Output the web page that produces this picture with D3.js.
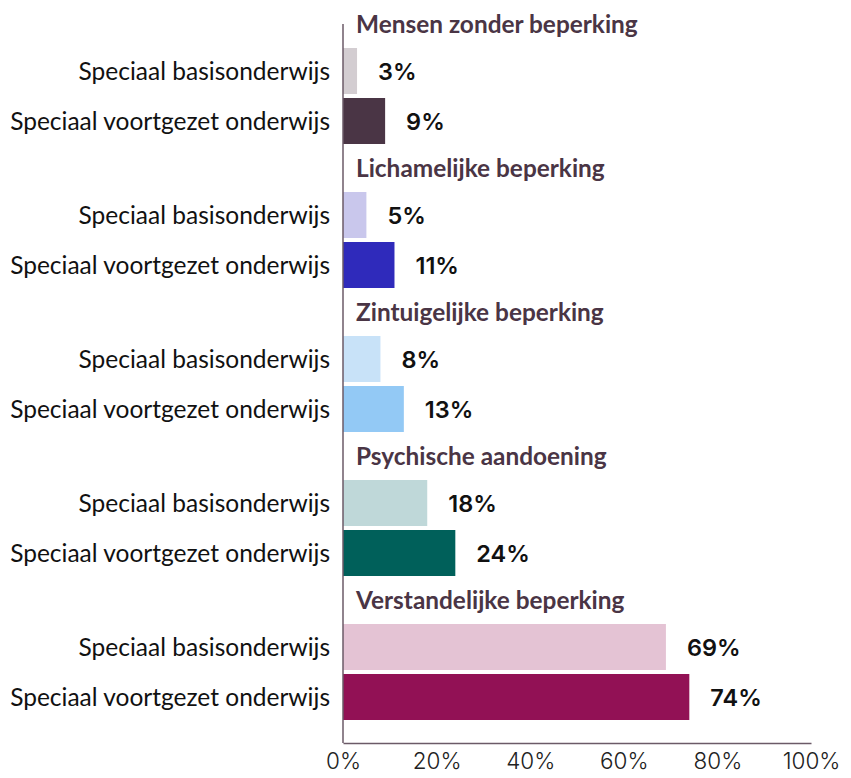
<!DOCTYPE html>
<html>
<head>
<meta charset="utf-8">
<script src="https://cdn.jsdelivr.net/npm/d3@7"></script>
<style>
  body { margin: 0; background: #fff; }
  svg { display: block; }
</style>
</head>
<body>
<div id="chart"></div>
<script>
// data
var groups = ["Mensen zonder beperking", "Lichamelijke beperking", "Zintuigelijke beperking", "Psychische aandoening", "Verstandelijke beperking"]
var subs = ["Speciaal basisonderwijs", "Speciaal voortgezet onderwijs"]
var basisValues = [3, 5, 8, 18, 69]
var voortgezetValues = [9, 11, 13, 24, 74]
var ticks = [0, 20, 40, 60, 80, 100]
var lightColors = ["#d3cdd1", "#c9c7ec", "#c8e2f8", "#bfd8d9", "#e4c3d4"]
var darkColors = ["#4a3545", "#2f2abb", "#93c9f5", "#00605a", "#921155"]

var width = 851, height = 778
var svg = d3.select("#chart").append("svg").attr("width", width).attr("height", height)

var xs = d3.scaleLinear().domain([0, 100]).range([343, 811])
var ys = d3.scaleBand().domain(groups).range([4, 724])
var inner = d3.scaleBand().domain(subs).range([44, 140]).paddingInner(0.08)

var rows = []
groups.forEach(function (g, i) {
  rows.push({ group: g, sub: subs[0], value: basisValues[i], color: lightColors[i] })
  rows.push({ group: g, sub: subs[1], value: voortgezetValues[i], color: darkColors[i] })
})

// group headers
svg.append("g").selectAll("text")
  .data(groups)
  .enter()
  .append("text")
  .attr("x", 356)
  .attr("y", d => ys(d) + 29)
  .attr("fill", "#4a3545")
  .style("font-family", "Lato, sans-serif")
  .style("font-weight", 700)
  .style("font-size", "24.4px")
  .text(d => d)

// bars
svg.append("g").selectAll("rect")
  .data(rows)
  .enter()
  .append("rect")
  .attr("x", xs(0))
  .attr("y", d => ys(d.group) + inner(d.sub))
  .attr("width", d => xs(d.value) - xs(0))
  .attr("height", inner.bandwidth())
  .attr("fill", d => d.color)

// category labels
svg.append("g").selectAll("text")
  .data(rows)
  .enter()
  .append("text")
  .attr("x", 330)
  .attr("y", d => ys(d.group) + inner(d.sub) + inner.bandwidth() / 2)
  .attr("dy", "0.35em")
  .attr("text-anchor", "end")
  .attr("fill", "#111")
  .style("font-family", "Lato, sans-serif")
  .style("font-size", "24.5px")
  .text(d => d.sub)

// value labels
svg.append("g").selectAll("text")
  .data(rows)
  .enter()
  .append("text")
  .attr("x", d => xs(d.value) + 21)
  .attr("y", d => ys(d.group) + inner(d.sub) + inner.bandwidth() / 2 + 1)
  .attr("dy", "0.35em")
  .attr("fill", "#111")
  .style("font-family", "Inter, sans-serif")
  .style("font-weight", 600)
  .style("font-size", "23.5px")
  .text(d => d.value + "%")

// axes
var xAxis = svg.append("g")
  .attr("transform", "translate(0,743)")
  .call(d3.axisBottom(xs).tickValues(ticks).tickFormat(d => d + "%").tickSize(0).tickPadding(10))
xAxis.select(".domain").attr("stroke", "#6b5a67").attr("stroke-width", 1.5)
xAxis.selectAll("text")
  .attr("fill", "#222")
  .style("font-family", "Inter, sans-serif")
  .style("font-weight", 300)
  .style("font-size", "22.5px")

svg.append("line")
  .attr("x1", xs(0)).attr("x2", xs(0))
  .attr("y1", 24).attr("y2", 743)
  .attr("stroke", "#6b5a67")
  .attr("stroke-width", 1.5)
</script>
</body>
</html>
